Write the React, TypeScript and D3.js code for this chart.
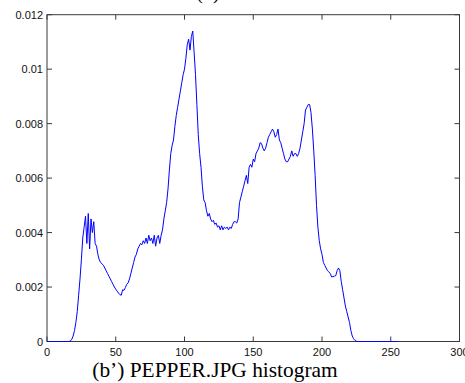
import * as d3 from "d3";

// normalized histogram of PEPPER.JPG, one value per grey level 0..255
const hist: number[] = [
  // 0-16
  0, 0, 0, 0, 0, 0, 0, 0, 0, 0, 0, 0, 0, 0, 0, 0, 0,
  // 17-40
  0.00002, 0.00008, 0.0002, 0.0004, 0.0007, 0.0011, 0.0017, 0.0023, 0.003, 0.0038,
  0.0042, 0.0046, 0.0036, 0.0047, 0.0034, 0.0045, 0.004, 0.0044, 0.0036, 0.0035,
  0.0032, 0.003, 0.0029, 0.00285,
  // 41-70
  0.0028, 0.0027, 0.0026, 0.0025, 0.0024, 0.0023, 0.0022, 0.0021, 0.002, 0.00192,
  0.00185, 0.00178, 0.00172, 0.0017, 0.0019, 0.00188, 0.00198, 0.0021, 0.00215, 0.0023,
  0.0025, 0.0027, 0.0029, 0.0031, 0.0032, 0.0034, 0.0035, 0.0036, 0.00355, 0.0037,
  // 71-100
  0.0036, 0.0038, 0.0036, 0.0039, 0.0037, 0.0038, 0.0036, 0.0039, 0.0035, 0.0038,
  0.0039, 0.0036, 0.0039, 0.0041, 0.0045, 0.0048, 0.0051, 0.0056, 0.0063, 0.0069,
  0.0072, 0.0074, 0.0079, 0.0083, 0.0086, 0.0089, 0.0092, 0.0095, 0.0098, 0.01,
  // 101-130
  0.0104, 0.0109, 0.0111, 0.0107, 0.0112, 0.0114, 0.0106, 0.0098, 0.0087, 0.0076,
  0.0069, 0.0064, 0.0057, 0.0052, 0.0051, 0.0048, 0.0046, 0.0047, 0.0045, 0.0044,
  0.00445, 0.0043, 0.00435, 0.0042, 0.00425, 0.0041, 0.00425, 0.0041, 0.0042, 0.00415,
  // 131-160
  0.0042, 0.0041, 0.0042, 0.00415, 0.0043, 0.0044, 0.0044, 0.00435, 0.0045, 0.0051,
  0.0053, 0.0055, 0.0057, 0.0059, 0.0061, 0.0058, 0.0064, 0.0065, 0.0064, 0.0067,
  0.0066, 0.0069, 0.007, 0.0071, 0.0073, 0.00727, 0.0071, 0.007, 0.0071, 0.0073,
  // 161-190
  0.0075, 0.0076, 0.0077, 0.0078, 0.0077, 0.0075, 0.0076, 0.0078, 0.0074, 0.0073,
  0.0071, 0.0069, 0.0067, 0.0066, 0.0066, 0.0067, 0.0068, 0.007, 0.0068, 0.0069,
  0.0069, 0.0068, 0.0069, 0.0071, 0.0074, 0.0077, 0.008, 0.0085, 0.0086, 0.0087,
  // 191-225
  0.0087, 0.0084, 0.0078, 0.007, 0.0061, 0.005, 0.0042, 0.0037, 0.0034, 0.0032,
  0.0029, 0.0028, 0.0027, 0.0026, 0.00255, 0.0025, 0.00237, 0.00238, 0.0024, 0.00242,
  0.0026, 0.0027, 0.0026, 0.0022, 0.0019, 0.0016, 0.0013, 0.0011, 0.0009, 0.0007,
  0.0004, 0.0002, 0.0001, 0.00004, 0.00001,
  // 226-255
  0, 0, 0, 0, 0, 0, 0, 0, 0, 0, 0, 0, 0, 0, 0,
  0, 0, 0, 0, 0, 0, 0, 0, 0, 0, 0, 0, 0, 0, 0,
];

const xTicks = [0, 50, 100, 150, 200, 250, 300];
const yTicks = [0, 0.002, 0.004, 0.006, 0.008, 0.01, 0.012];
const yTickLabels = ["0", "0.002", "0.004", "0.006", "0.008", "0.01", "0.012"];

export default function App() {
  const width = 465;
  const height = 383;
  const left = 47;
  const right = 459.5;
  const top = 14.7;
  const bottom = 341.5;

  const x = d3.scaleLinear().domain([0, 300]).range([left, right]);
  const y = d3.scaleLinear().domain([0, 0.012]).range([bottom, top]);

  const line = d3
    .line<number>()
    .x((_, i) => x(i))
    .y((d) => y(d));

  const axisColor = "#3a3a3a";
  const tickLen = 5;

  return (
    <svg
      width={width}
      height={height}
      style={{ position: "absolute", left: 0, top: 0, background: "#fff" }}
    >
      <text
        x={208}
        y={-1}
        textAnchor="middle"
        fontFamily="'Liberation Serif', 'Times New Roman', serif"
        fontSize={20}
      >
        (b)
      </text>

      <rect
        x={left}
        y={top}
        width={right - left}
        height={bottom - top}
        fill="none"
        stroke={axisColor}
        strokeWidth={1}
      />

      {xTicks.map((t) => (
        <g key={"x" + t}>
          <line x1={x(t)} x2={x(t)} y1={bottom} y2={bottom - tickLen} stroke={axisColor} />
          <line x1={x(t)} x2={x(t)} y1={top} y2={top + tickLen} stroke={axisColor} />
          <text
            x={x(t)}
            y={bottom + 14}
            textAnchor="middle"
            fontFamily="Arial, 'Liberation Sans', sans-serif"
            fontSize={11}
            fill="#111"
          >
            {t}
          </text>
        </g>
      ))}

      {yTicks.map((t, i) => (
        <g key={"y" + t}>
          <line x1={left} x2={left + tickLen} y1={y(t)} y2={y(t)} stroke={axisColor} />
          <line x1={right} x2={right - tickLen} y1={y(t)} y2={y(t)} stroke={axisColor} />
          <text
            x={left - 4}
            y={y(t) + 4}
            textAnchor="end"
            fontFamily="Arial, 'Liberation Sans', sans-serif"
            fontSize={11}
            fill="#111"
          >
            {yTickLabels[i]}
          </text>
        </g>
      ))}

      <path d={line(hist) ?? ""} fill="none" stroke="#0000ff" strokeWidth={1} />

      <text
        x={215}
        y={377}
        textAnchor="middle"
        fontFamily="'Liberation Serif', 'Times New Roman', serif"
        fontSize={21.4}
        fill="#000"
      >
        (b’) PEPPER.JPG histogram
      </text>
    </svg>
  );
}
